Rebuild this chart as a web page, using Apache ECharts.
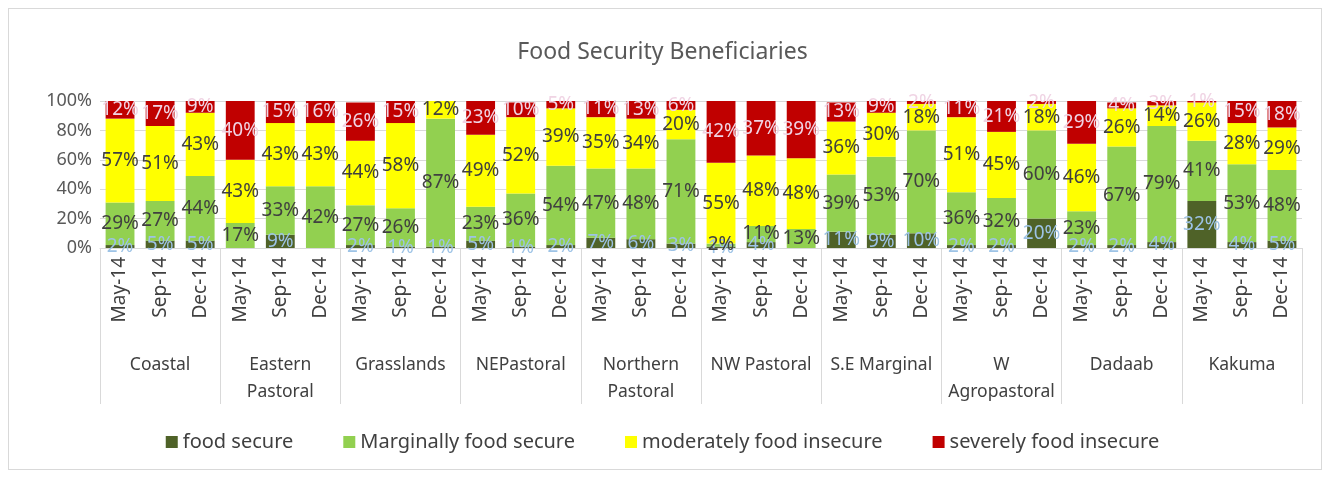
<!DOCTYPE html>
<html>
<head>
<meta charset="utf-8">
<script src="https://cdn.jsdelivr.net/npm/echarts@6/dist/echarts.min.js"></script>
<style>
html,body{margin:0;padding:0;background:#fff;}
#frame{position:absolute;left:8px;top:8px;width:1314px;height:462px;border:1px solid #d9d9d9;box-sizing:border-box;}
#chart{position:absolute;left:0;top:0;width:1325px;height:478px;}
</style>
</head>
<body>
<div id="frame"></div>
<div id="chart"></div>
<script>
const regions = ['Coastal','Eastern\nPastoral','Grasslands','NEPastoral','Northern\nPastoral','NW Pastoral','S.E Marginal','W\nAgropastoral','Dadaab','Kakuma'];
const months = ['May-14','Sep-14','Dec-14'];
const yTicks = [0,20,40,60,80,100];
// per bar, in order region x month
const foodSecure = [2,5,5, 0,9,0, 2,1,1, 5,1,2, 7,6,3, 1,4,0, 11,9,10, 2,2,20, 2,2,4, 32,4,5];
const marginal   = [29,27,44, 17,33,42, 27,26,87, 23,36,54, 47,48,71, 2,11,13, 39,53,70, 36,32,60, 23,67,79, 41,53,48];
const moderate   = [57,51,43, 43,43,43, 44,58,12, 49,52,39, 35,34,20, 55,48,48, 36,30,18, 51,45,18, 46,26,14, 26,28,29];
const severe     = [12,17,9, 40,15,16, 26,15,0, 23,10,5, 11,13,6, 42,37,39, 13,9,2, 11,21,2, 29,4,3, 1,15,18];

const cats = [];
regions.forEach(() => months.forEach(m => cats.push(m)));

const font = 'Noto Sans';
function lbl(color){
  return {show:true, position:'inside', color:color, fontSize:19, fontFamily:font,
    formatter: p => p.value > 0 ? p.value + '%' : ''};
}
const chart = echarts.init(document.getElementById('chart'));
chart.setOption({
  animation:false,
  title:{text:'Food Security Beneficiaries', left:'center', top:36,
    textStyle:{fontSize:23, fontWeight:'normal', color:'#595959', fontFamily:font}},
  grid:{left:100, right:23, top:101, bottom:230},
  legend:{bottom:21, left:'center', itemWidth:12, itemHeight:12, itemGap:50, icon:'rect',
    textStyle:{fontSize:20, color:'#404040', fontFamily:font},
    data:['food secure','Marginally food secure','moderately food insecure','severely food insecure']},
  xAxis:[
    {type:'category', data:cats, position:'bottom',
     axisLine:{show:true, lineStyle:{color:'#d9d9d9'}}, axisTick:{show:false},
     axisLabel:{rotate:90, fontSize:19, color:'#404040', fontFamily:font, margin:9, interval:0}},
    {type:'category', data:regions, position:'bottom',
     axisLine:{show:false},
     axisTick:{show:true, length:156, lineStyle:{color:'#d9d9d9'}},
     axisLabel:{fontSize:17.5, color:'#404040', fontFamily:font, margin:104, lineHeight:27, interval:0}}
  ],
  yAxis:{type:'value', min:yTicks[0], max:yTicks[yTicks.length-1], interval:20,
    axisLabel:{formatter:'{value}%', fontSize:18, color:'#595959', fontFamily:font, margin:8},
    axisLine:{show:false}, axisTick:{show:false},
    splitLine:{lineStyle:{color:'#d9d9d9'}}},
  series:[
    {name:'food secure', type:'bar', stack:'a', data:foodSecure, barCategoryGap:'28%',
     itemStyle:{color:'#4F6228'}, label:lbl('#9dc3e6')},
    {name:'Marginally food secure', type:'bar', stack:'a', data:marginal,
     itemStyle:{color:'#92D050'}, label:lbl('#404040')},
    {name:'moderately food insecure', type:'bar', stack:'a', data:moderate,
     itemStyle:{color:'#FFFF00'}, label:lbl('#404040')},
    {name:'severely food insecure', type:'bar', stack:'a', data:severe,
     itemStyle:{color:'#C00000'}, label:lbl('#f0d4e4')}
  ]
});
</script>
</body>
</html>
